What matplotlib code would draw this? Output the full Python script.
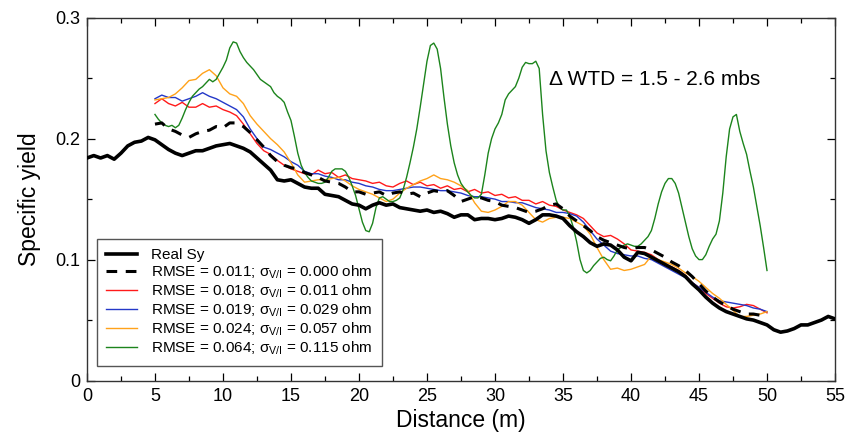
import numpy as np
import matplotlib
matplotlib.use("Agg")
import matplotlib.pyplot as plt
from matplotlib.ticker import MultipleLocator

plt.rcParams["font.family"] = ["Liberation Sans", "DejaVu Sans"]
plt.rcParams["mathtext.fontset"] = "custom"
plt.rcParams["mathtext.rm"] = "Liberation Sans"
plt.rcParams["mathtext.it"] = "Liberation Sans:italic"

# distance grids (m)
x_real = np.arange(0, 55.01, 0.5)
x_inv = np.arange(5, 50.01, 0.5)
x_green = np.arange(5, 50.01, 0.25)

real_sy = [
    0.184, 0.186, 0.184, 0.186, 0.183, 0.188, 0.194, 0.197, 0.198, 0.201,
    0.199, 0.195, 0.191, 0.188, 0.186, 0.188, 0.190, 0.190, 0.192, 0.194,
    0.195, 0.196, 0.194, 0.192, 0.189, 0.184, 0.179, 0.174, 0.166, 0.165,
    0.166, 0.163, 0.160, 0.159, 0.159, 0.154, 0.153, 0.152, 0.149, 0.146,
    0.145, 0.142, 0.145, 0.147, 0.145, 0.146, 0.143, 0.142, 0.141, 0.140,
    0.141, 0.139, 0.140, 0.138, 0.135, 0.137, 0.137, 0.133, 0.134, 0.134,
    0.133, 0.134, 0.136, 0.135, 0.133, 0.130, 0.133, 0.137, 0.137, 0.136,
    0.134, 0.128, 0.123, 0.119, 0.114, 0.111, 0.113, 0.112, 0.108, 0.102,
    0.099, 0.106, 0.105, 0.102, 0.099, 0.096, 0.093, 0.090, 0.086, 0.080,
    0.075, 0.069, 0.064, 0.060, 0.057, 0.055, 0.053, 0.051, 0.050, 0.048,
    0.046, 0.042, 0.040, 0.041, 0.043, 0.046, 0.046, 0.048, 0.050, 0.053,
    0.051,
]

sy_000 = [
    0.212, 0.213, 0.208, 0.206, 0.203, 0.201, 0.204, 0.206, 0.207, 0.210,
    0.209, 0.213, 0.213, 0.210, 0.205, 0.199, 0.193, 0.186, 0.181, 0.178,
    0.176, 0.175, 0.172, 0.170, 0.168, 0.165, 0.164, 0.163, 0.160, 0.156,
    0.156, 0.154, 0.155, 0.156, 0.153, 0.155, 0.156, 0.154, 0.155, 0.152,
    0.155, 0.157, 0.156, 0.157, 0.153, 0.148, 0.150, 0.152, 0.151, 0.149,
    0.148, 0.145, 0.144, 0.143, 0.141, 0.139, 0.140, 0.142, 0.145, 0.146,
    0.142, 0.136, 0.132, 0.128, 0.124, 0.119, 0.116, 0.114, 0.112, 0.110,
    0.109, 0.110, 0.110, 0.108, 0.105, 0.102, 0.098, 0.095, 0.091, 0.086,
    0.080, 0.074, 0.069, 0.065, 0.062, 0.059, 0.057, 0.055, 0.055, 0.054,
    0.054,
]

sy_011 = [
    0.229, 0.233, 0.229, 0.227, 0.230, 0.226, 0.226, 0.229, 0.226, 0.227,
    0.224, 0.222, 0.219, 0.212, 0.204, 0.196, 0.190, 0.187, 0.182, 0.178,
    0.175, 0.173, 0.171, 0.170, 0.174, 0.171, 0.172, 0.168, 0.170, 0.167,
    0.166, 0.165, 0.163, 0.164, 0.161, 0.160, 0.163, 0.165, 0.162, 0.164,
    0.161, 0.162, 0.159, 0.161, 0.158, 0.159, 0.156, 0.158, 0.155, 0.156,
    0.153, 0.154, 0.151, 0.152, 0.149, 0.149, 0.146, 0.148, 0.145, 0.144,
    0.141, 0.139, 0.137, 0.134, 0.128, 0.122, 0.119, 0.120, 0.117, 0.113,
    0.108, 0.107, 0.106, 0.104, 0.100, 0.096, 0.094, 0.091, 0.087, 0.081,
    0.077, 0.072, 0.068, 0.064, 0.061, 0.060, 0.061, 0.063, 0.062, 0.059,
    0.056,
]

sy_029 = [
    0.233, 0.236, 0.234, 0.234, 0.231, 0.233, 0.235, 0.238, 0.235, 0.233,
    0.230, 0.227, 0.224, 0.218, 0.208, 0.200, 0.193, 0.191, 0.188, 0.185,
    0.181, 0.178, 0.173, 0.171, 0.171, 0.169, 0.168, 0.166, 0.166, 0.164,
    0.163, 0.161, 0.160, 0.158, 0.157, 0.157, 0.158, 0.159, 0.160, 0.160,
    0.159, 0.158, 0.157, 0.157, 0.156, 0.155, 0.153, 0.152, 0.152, 0.151,
    0.150, 0.148, 0.148, 0.147, 0.147, 0.145, 0.143, 0.142, 0.141, 0.139,
    0.139, 0.138, 0.136, 0.131, 0.124, 0.117, 0.112, 0.107, 0.105, 0.104,
    0.103, 0.103, 0.101, 0.100, 0.097, 0.094, 0.091, 0.088, 0.085, 0.081,
    0.077, 0.073, 0.069, 0.066, 0.065, 0.064, 0.063, 0.062, 0.060, 0.059,
    0.057,
]

sy_057 = [
    0.232, 0.233, 0.234, 0.237, 0.242, 0.248, 0.249, 0.254, 0.257, 0.252,
    0.242, 0.237, 0.235, 0.229, 0.219, 0.212, 0.206, 0.200, 0.195, 0.189,
    0.180, 0.170, 0.164, 0.165, 0.166, 0.166, 0.167, 0.168, 0.165, 0.161,
    0.158, 0.156, 0.154, 0.151, 0.148, 0.150, 0.155, 0.159, 0.162, 0.165,
    0.167, 0.170, 0.167, 0.166, 0.164, 0.161, 0.157, 0.147, 0.140, 0.139,
    0.141, 0.144, 0.148, 0.148, 0.145, 0.139, 0.133, 0.131, 0.134, 0.135,
    0.135, 0.134, 0.131, 0.128, 0.121, 0.110, 0.100, 0.092, 0.093, 0.091,
    0.092, 0.094, 0.096, 0.103, 0.100, 0.098, 0.096, 0.093, 0.089, 0.086,
    0.082, 0.077, 0.072, 0.068, 0.063, 0.058, 0.053, 0.053, 0.054, 0.055,
    0.057,
]

sy_115 = [
    0.220, 0.216, 0.213, 0.211, 0.210, 0.211, 0.209, 0.211, 0.217, 0.224,
    0.230, 0.235, 0.238, 0.241, 0.243, 0.246, 0.249, 0.247, 0.249, 0.254,
    0.259, 0.265, 0.275, 0.280, 0.279, 0.272, 0.267, 0.263, 0.260, 0.257,
    0.253, 0.249, 0.247, 0.245, 0.243, 0.238, 0.235, 0.233, 0.230, 0.222,
    0.215, 0.202, 0.188, 0.178, 0.172, 0.168, 0.165, 0.164, 0.163, 0.163,
    0.164, 0.168, 0.173, 0.175, 0.175, 0.175, 0.173, 0.168, 0.161, 0.153,
    0.142, 0.131, 0.124, 0.123, 0.130, 0.143, 0.151, 0.152, 0.150, 0.148,
    0.148, 0.149, 0.151, 0.158, 0.168, 0.180, 0.193, 0.208, 0.226, 0.245,
    0.264, 0.277, 0.279, 0.274, 0.258, 0.234, 0.212, 0.194, 0.180, 0.170,
    0.163, 0.159, 0.156, 0.153, 0.151, 0.151, 0.154, 0.170, 0.188, 0.200,
    0.208, 0.213, 0.220, 0.232, 0.237, 0.240, 0.243, 0.250, 0.259, 0.263,
    0.262, 0.262, 0.264, 0.258, 0.220, 0.190, 0.172, 0.160, 0.149, 0.143,
    0.141, 0.141, 0.136, 0.127, 0.115, 0.100, 0.091, 0.089, 0.091, 0.095,
    0.098, 0.101, 0.102, 0.100, 0.099, 0.103, 0.108, 0.110, 0.112, 0.113,
    0.112, 0.111, 0.111, 0.113, 0.116, 0.119, 0.124, 0.134, 0.146, 0.156,
    0.163, 0.167, 0.167, 0.163, 0.155, 0.143, 0.131, 0.119, 0.109, 0.103,
    0.100, 0.100, 0.104, 0.111, 0.117, 0.121, 0.132, 0.155, 0.185, 0.208,
    0.218, 0.220, 0.206, 0.196, 0.187, 0.173, 0.160, 0.144, 0.128, 0.110,
    0.091,
]

labels = [
    "Real Sy",
    "RMSE = 0.011; σ$_{\\mathrm{V/I}}$ = 0.000 ohm",
    "RMSE = 0.018; σ$_{\\mathrm{V/I}}$ = 0.011 ohm",
    "RMSE = 0.019; σ$_{\\mathrm{V/I}}$ = 0.029 ohm",
    "RMSE = 0.024; σ$_{\\mathrm{V/I}}$ = 0.057 ohm",
    "RMSE = 0.064; σ$_{\\mathrm{V/I}}$ = 0.115 ohm",
]

fig = plt.figure(figsize=(8.51, 4.42), dpi=100)
ax = fig.add_axes([0.1022, 0.139, 0.879, 0.821])

ax.plot(x_real, real_sy, color="black", lw=2.6, label=labels[0], zorder=5)
ax.plot(x_inv, sy_000, color="black", lw=2.2, dashes=(3.5, 2.8), label=labels[1], zorder=4)
ax.plot(x_inv, sy_011, color="#ff1a1a", lw=1.0, label=labels[2])
ax.plot(x_inv, sy_029, color="#2438c8", lw=1.0, label=labels[3])
ax.plot(x_inv, sy_057, color="#ffa21a", lw=1.0, label=labels[4])
ax.plot(x_green, sy_115, color="#1c841c", lw=1.0, label=labels[5])

ax.set_xlim(0, 55)
ax.set_ylim(0, 0.3)
ax.xaxis.set_major_locator(MultipleLocator(5))
ax.xaxis.set_minor_locator(MultipleLocator(2.5))
ax.yaxis.set_major_locator(MultipleLocator(0.1))
ax.yaxis.set_minor_locator(MultipleLocator(0.05))
ax.set_yticks([0, 0.1, 0.2, 0.3])
ax.set_yticklabels(["0", "0.1", "0.2", "0.3"])
ax.tick_params(which="both", direction="in", top=True, right=True, labelsize=13, width=0.9)
ax.tick_params(which="major", length=6, pad=5)
ax.tick_params(which="minor", length=3.5)
for s in ax.spines.values():
    s.set_linewidth(1.0)
    s.set_color("#333333")

ax.set_xlabel("Distance (m)", fontsize=16.5, labelpad=3)
ax.set_ylabel("Specific yield", fontsize=16.5, labelpad=10)

ax.text(0.6175, 0.83, "Δ WTD = 1.5 - 2.6 mbs", transform=ax.transAxes,
        fontsize=15, va="center", ha="left")

leg = ax.legend(loc="lower left", bbox_to_anchor=(0.0134, 0.04), borderaxespad=0,
                fontsize=11, frameon=True, fancybox=False, framealpha=1,
                edgecolor="#555555", handlelength=2.0, handletextpad=0.95,
                labelspacing=0.1, borderpad=0.6)
leg.get_frame().set_linewidth(1.0)

fig.savefig("out.png", dpi=100)
